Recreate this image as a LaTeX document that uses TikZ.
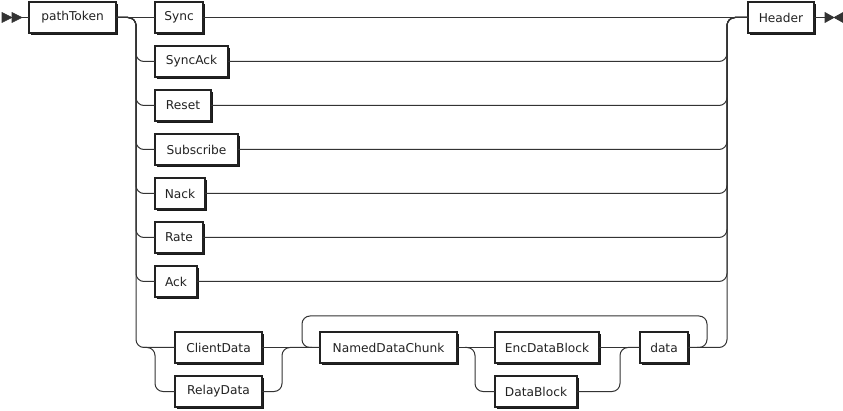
\documentclass[tikz,border=0pt]{standalone}
\usepackage{fontspec}
\setmainfont{DejaVu Sans}
\usetikzlibrary{shadows}
\definecolor{linec}{HTML}{333333}
\definecolor{textc}{HTML}{222222}
\tikzset{
  rail/.style={draw=linec, line width=1pt, rounded corners=8pt},
  box/.style={draw=textc, line width=1.1pt, fill=white, inner sep=0pt, outer sep=0pt,
    minimum height=31pt, text=textc, font=\fontsize{12.2}{14}\selectfont,
    drop shadow={shadow xshift=2.4pt, shadow yshift=-2.4pt, fill=black!90, opacity=1}},
  marker/.style={fill=linec, draw=linec, line width=0.6pt, line join=miter}
}
\begin{document}
\begin{tikzpicture}[x=1pt, y=-1pt]
\useasboundingbox (0,0) rectangle (843,411);
% boxes: (left+right)/2, width
\node[box, minimum width=87pt] (pathToken) at (72.5,17.5) {pathToken};
\node[box, minimum width=48pt] (Sync) at (179,17.5) {Sync};
\node[box, minimum width=73pt] (SyncAck) at (191.5,61.5) {SyncAck};
\node[box, minimum width=56pt] (Reset) at (183,105.5) {Reset};
\node[box, minimum width=83pt] (Subscribe) at (196.5,149.5) {Subscribe};
\node[box, minimum width=50pt] (Nack) at (180,193.5) {Nack};
\node[box, minimum width=48pt] (Rate) at (179,237.5) {Rate};
\node[box, minimum width=42pt] (Ack) at (176,281.5) {Ack};
\node[box, minimum width=87pt] (ClientData) at (218.5,347.5) {ClientData};
\node[box, minimum width=87pt] (RelayData) at (218.5,391.5) {RelayData};
\node[box, minimum width=137pt] (NamedDataChunk) at (388.5,347.5) {NamedDataChunk};
\node[box, minimum width=104pt] (EncDataBlock) at (547,347.5) {EncDataBlock};
\node[box, minimum width=82pt] (DataBlock) at (536,391.5) {DataBlock};
\node[box, minimum width=48pt] (data) at (664,347.5) {data};
\node[box, minimum width=66pt] (Header) at (781,17.5) {Header};

% rails
\coordinate (lrail) at (136,0);
\coordinate (rrail) at (727,0);
\coordinate (start) at (22,17.5);
\coordinate (stop) at (825,17.5);

% start marker
\fill[marker] (2,12.5) -- (12,17.5) -- (2,22.5) -- cycle;
\fill[marker] (12,12.5) -- (22,17.5) -- (12,22.5) -- cycle;
\draw[rail] (start) -- (pathToken.west);
% end marker
\draw[rail] (Header.east) -- (stop);
\fill[marker] (825,12.5) -- (834,17.5) -- (825,22.5) -- cycle;
\fill[marker] (843,12.5) -- (834,17.5) -- (843,22.5) -- cycle;

% main line
\draw[rail] (pathToken.east) -- (Sync.west);
\draw[rail] (Sync.east) -- (Header.west);
\foreach \r in {SyncAck,Reset,Subscribe,Nack,Rate,Ack,ClientData}{
  \draw[rail] (pathToken.east) -| (\r.west -| lrail) -- (\r.west);
}
\foreach \r in {SyncAck,Reset,Subscribe,Nack,Rate,Ack,data}{
  \draw[rail] (\r.east) -| (Header.west -| rrail) -- (Header.west);
}

% ClientData / RelayData choice
\coordinate (f1) at (143,347.5);
\draw[rail] (f1) -| (155,391.5) -- (RelayData.west);
\draw[rail] (ClientData.east) -- (NamedDataChunk.west);
\draw[rail] (RelayData.east) -| (282,347.5) -- (NamedDataChunk.west);

% EncDataBlock / DataBlock choice
\coordinate (f2) at (465,347.5);
\draw[rail] (NamedDataChunk.east) -- (EncDataBlock.west);
\draw[rail] (f2) -| (475,391.5) -- (DataBlock.west);
\draw[rail] (EncDataBlock.east) -- (data.west);
\draw[rail] (DataBlock.east) -| (620,347.5) -- (data.west);

% repeat loop
\coordinate (l1) at (697,347.5);
\coordinate (l2) at (312,347.5);
\draw[rail] (l1) -| (707,316) -| (302,347.5) -- (l2);
\end{tikzpicture}
\end{document}
